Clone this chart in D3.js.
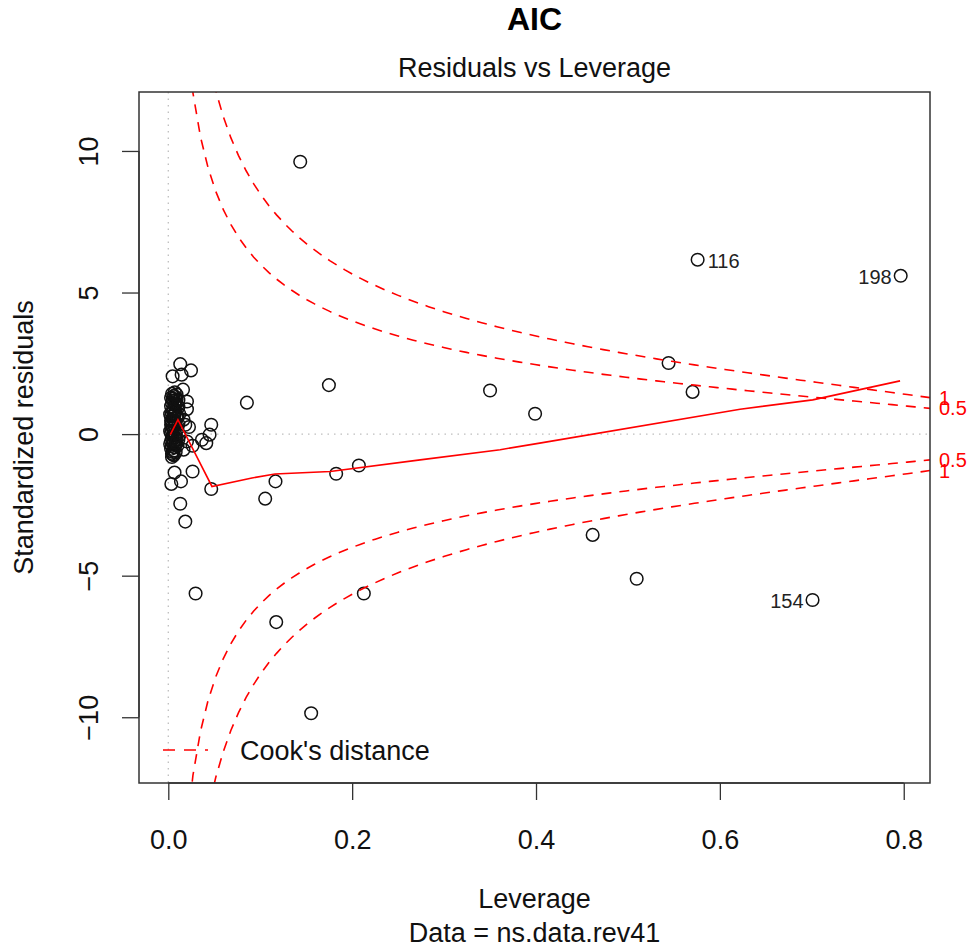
<!DOCTYPE html>
<html>
<head>
  <meta charset="utf-8">
  <script src="https://cdnjs.cloudflare.com/ajax/libs/d3/7.8.5/d3.min.js"></script>
  <title>AIC - Residuals vs Leverage</title>
  <style>
    body { margin: 0; background: #fff; }
    text { font-family: "Liberation Sans", Arial, sans-serif; }
  </style>
</head>
<body>
<script>
// leverage (hat values) and standardized residuals
var leverage = [
  0.1435, 0.5758, 0.7967, 0.5442, 0.5703, 0.350, 0.399, 0.1747, 0.0855,
  0.1166, 0.1054, 0.1826, 0.2073, 0.4616, 0.5095, 0.7008, 0.0297, 0.1174,
  0.2127, 0.1554,
  0.0130, 0.0247, 0.0047, 0.0145, 0.0160, 0.0203, 0.0467, 0.0449, 0.0413,
  0.0225, 0.0264, 0.0264, 0.0068, 0.0033, 0.0138, 0.0467, 0.0130, 0.0185,
  0.0203, 0.0166, 0.0185, 0.0366, 0.0203, 0.0166, 0.0110,
  0.004, 0.006, 0.003, 0.008, 0.005, 0.009, 0.004, 0.007, 0.003, 0.010,
  0.006, 0.005, 0.008, 0.004, 0.007, 0.003, 0.009, 0.005, 0.006, 0.004,
  0.008, 0.003, 0.007, 0.005, 0.010, 0.004, 0.006, 0.003, 0.008, 0.005,
  0.007, 0.004, 0.009, 0.003, 0.006, 0.005, 0.008, 0.004, 0.007, 0.003,
  0.006, 0.005, 0.004, 0.006, 0.004, 0.011, 0.011, 0.012, 0.010, 0.002,
  0.002, 0.002, 0.009, 0.007,
  0.005, 0.008, 0.006, 0.010, 0.004, 0.007, 0.009, 0.005, 0.012, 0.008,
  0.003, 0.011
];
var stdResid = [
  9.62, 6.16, 5.59, 2.51, 1.49, 1.54, 0.72, 1.73, 1.11,
  -1.67, -2.28, -1.40, -1.11, -3.56, -5.11, -5.86, -5.63, -6.64,
  -5.63, -9.86,
  2.47, 2.25, 2.04, 2.10, 1.57, 0.88, 0.33, -0.02, -0.32,
  0.25, -0.41, -1.32, -1.36, -1.76, -1.67, -1.94, -2.46, -3.09,
  1.15, 0.51, 0.33, -0.20, -0.26, -0.55, -0.20,
  1.42, 1.35, 1.28, 1.31, 1.18, 1.22, 1.10, 1.05, 0.98, 1.01,
  0.92, 0.85, 0.80, 0.74, 0.69, 0.62, 0.60, 0.55, 0.48, 0.43,
  0.39, 0.33, 0.28, 0.22, 0.18, 0.12, 0.08, 0.03, -0.02, -0.06,
  -0.11, -0.15, -0.19, -0.24, -0.28, -0.33, -0.37, -0.42, -0.47, -0.52,
  -0.58, -0.63, -0.69, -0.75, -0.81, 0.95, 0.35, -0.05, -0.40, 0.70,
  0.10, -0.35, 1.40, 1.48,
  1.25, 1.12, 0.66, 0.58, 0.27, -0.09, -0.31, -0.72, 0.71, -0.64,
  0.47, 1.20
];
// labelled observations: index into the arrays above, side of the label
var idLabels = ["116", "198", "154"];
var idIndex = [1, 2, 15];
var idSide = ["right", "left", "left"];

// red smoother through the points
var smoothLev = [0.0022, 0.0105, 0.0475, 0.091, 0.116, 0.176, 0.274, 0.361, 0.404, 0.622, 0.701, 0.796];
var smoothRes = [-0.02, 0.51, -1.85, -1.55, -1.41, -1.32, -0.91, -0.55, -0.32, 0.88, 1.21, 1.88];

// Cook's distance contour levels, number of model parameters
var cookLevels = [0.5, 1];
var nParams = 8;

var xTicks = [0, 0.2, 0.4, 0.6, 0.8];
var xTickLabels = ["0.0", "0.2", "0.4", "0.6", "0.8"];
var yTicks = [-10, -5, 0, 5, 10];
var yTickLabels = ["\u221210", "\u22125", "0", "5", "10"];

var W = 970, H = 947;
var box = {left: 139, right: 930, top: 92, bottom: 783};
var red = "#ff0000";

var svg = d3.select("body").append("svg")
  .attr("width", W).attr("height", H)
  .style("background", "#fff");

// R-like limits: x from 0 to max, y range extended 8%, both padded 4%
var xmax = d3.max(leverage);
var x = d3.scaleLinear()
  .domain([-0.04 * xmax, xmax * 1.04])
  .range([box.left, box.right]);
var yr = d3.extent(stdResid);
var ext = 0.08 * (yr[1] - yr[0]);
var ylo = yr[0] - ext, yhi = yr[1] + ext;
var pad = 0.04 * (yhi - ylo);
var y = d3.scaleLinear()
  .domain([ylo - pad, yhi + pad])
  .range([box.bottom, box.top]);

svg.append("clipPath").attr("id", "plotclip")
  .append("rect")
  .attr("x", box.left).attr("y", box.top)
  .attr("width", box.right - box.left).attr("height", box.bottom - box.top);

var plot = svg.append("g").attr("clip-path", "url(#plotclip)");

// dotted reference lines at 0
plot.append("line")
  .attr("x1", box.left).attr("x2", box.right)
  .attr("y1", y(0)).attr("y2", y(0))
  .attr("stroke", "#bebebe").attr("stroke-width", 1.3)
  .attr("stroke-dasharray", "1.5,5");
plot.append("line")
  .attr("x1", x(0)).attr("x2", x(0))
  .attr("y1", box.top).attr("y2", box.bottom)
  .attr("stroke", "#bebebe").attr("stroke-width", 1.3)
  .attr("stroke-dasharray", "1.5,5");

// points
var pts = leverage.map(function(d, i) { return {lev: d, res: stdResid[i]}; });
plot.selectAll("circle.pt").data(pts).enter().append("circle")
  .attr("class", "pt")
  .attr("cx", function(d) { return x(d.lev); })
  .attr("cy", function(d) { return y(d.res); })
  .attr("r", 6.3)
  .attr("fill", "none")
  .attr("stroke", "#111")
  .attr("stroke-width", 1.5);

// smoother
var smooth = smoothLev.map(function(d, i) { return [d, smoothRes[i]]; });
plot.append("path")
  .datum(smooth)
  .attr("d", d3.line().x(function(d) { return x(d[0]); }).y(function(d) { return y(d[1]); }))
  .attr("fill", "none").attr("stroke", red).attr("stroke-width", 1.6);

// Cook's distance contours, as plot.lm draws them
var rhat = d3.extent(leverage);
var h0 = Math.min(rhat[0], rhat[1] / 100), h1 = x.domain()[1];
var hh = d3.range(101).map(function(i) { return h0 + (h1 - h0) * i / 100; });
var cookLine = d3.line().x(function(d) { return x(d[0]); }).y(function(d) { return y(d[1]); });
cookLevels.forEach(function(cl) {
  [1, -1].forEach(function(sgn) {
    var pts2 = hh.map(function(h) { return [h, sgn * Math.sqrt(cl * nParams * (1 - h) / h)]; });
    plot.append("path").datum(pts2)
      .attr("d", cookLine)
      .attr("fill", "none").attr("stroke", red).attr("stroke-width", 1.6)
      .attr("stroke-dasharray", "10,8");
  });
});

// id labels
idIndex.forEach(function(k, j) {
  var px = x(leverage[k]), py = y(stdResid[k]);
  var right = idSide[j] === "right";
  svg.append("text")
    .attr("x", right ? px + 10 : px - 9)
    .attr("y", py + 8)
    .attr("text-anchor", right ? "start" : "end")
    .attr("font-size", 20).attr("fill", "#222")
    .text(idLabels[j]);
});

// box
svg.append("rect")
  .attr("x", box.left).attr("y", box.top)
  .attr("width", box.right - box.left).attr("height", box.bottom - box.top)
  .attr("fill", "none").attr("stroke", "#333").attr("stroke-width", 1.5);

// axes
var xAxis = d3.axisBottom(x).tickValues(xTicks).tickSize(17).tickPadding(30)
  .tickFormat(function(d, i) { return xTickLabels[i]; });
var gx = svg.append("g").attr("transform", "translate(0," + box.bottom + ")").call(xAxis);
gx.select(".domain").attr("stroke", "#333").attr("stroke-width", 1.3)
  .attr("d", "M" + x(xTicks[0]) + ",0H" + x(xTicks[xTicks.length - 1]));
gx.selectAll(".tick line").attr("stroke", "#333").attr("stroke-width", 1.3);
gx.selectAll(".tick text").attr("font-size", 27).attr("fill", "#111")
  .attr("font-family", "Liberation Sans, Arial, sans-serif");

var yAxis = d3.axisLeft(y).tickValues(yTicks).tickSize(17)
  .tickFormat(function(d, i) { return yTickLabels[i]; });
var gy = svg.append("g").attr("transform", "translate(" + box.left + ",0)").call(yAxis);
gy.select(".domain").attr("stroke", "#333").attr("stroke-width", 1.3)
  .attr("d", "M0," + y(yTicks[0]) + "V" + y(yTicks[yTicks.length - 1]));
gy.selectAll(".tick line").attr("stroke", "#333").attr("stroke-width", 1.3);
gy.selectAll(".tick text")
  .attr("font-size", 27).attr("fill", "#111")
  .attr("font-family", "Liberation Sans, Arial, sans-serif")
  .attr("x", null).attr("dy", null)
  .attr("text-anchor", "middle")
  .attr("transform", "translate(-41,0) rotate(-90)");

// Cook's level labels on the right
var xm = Math.min(0.99, x.domain()[1]);
var ymult = Math.sqrt(nParams * (1 - xm) / xm);
var rightLabs = [];
cookLevels.forEach(function(cl) {
  rightLabs.push({v: Math.sqrt(cl) * ymult, t: String(cl)});
  rightLabs.push({v: -Math.sqrt(cl) * ymult, t: String(cl)});
});
svg.selectAll("text.cooklab").data(rightLabs).enter().append("text")
  .attr("class", "cooklab")
  .attr("x", box.right + 9)
  .attr("y", function(d) { return y(d.v) + 7; })
  .attr("font-size", 20).attr("fill", red)
  .text(function(d) { return d.t; });

// legend
svg.append("line")
  .attr("x1", 163).attr("x2", 208).attr("y1", 750).attr("y2", 750)
  .attr("stroke", red).attr("stroke-width", 1.6).attr("stroke-dasharray", "12,9");
svg.append("text")
  .attr("x", 240).attr("y", 760)
  .attr("font-size", 27).attr("fill", "#111")
  .text("Cook's distance");

// titles
var cx = (box.left + box.right) / 2;
svg.append("text").attr("x", cx).attr("y", 30)
  .attr("text-anchor", "middle").attr("font-size", 32).attr("font-weight", "bold")
  .attr("fill", "#000").text("AIC");
svg.append("text").attr("x", cx).attr("y", 77)
  .attr("text-anchor", "middle").attr("font-size", 27).attr("fill", "#111")
  .text("Residuals vs Leverage");
svg.append("text").attr("x", cx).attr("y", 908)
  .attr("text-anchor", "middle").attr("font-size", 27).attr("fill", "#111")
  .text("Leverage");
svg.append("text").attr("x", cx).attr("y", 942)
  .attr("text-anchor", "middle").attr("font-size", 27).attr("fill", "#111")
  .text("Data = ns.data.rev41");
svg.append("text")
  .attr("transform", "translate(33," + ((box.top + box.bottom) / 2) + ") rotate(-90)")
  .attr("text-anchor", "middle").attr("font-size", 27).attr("fill", "#111")
  .text("Standardized residuals");
</script>
</body>
</html>
